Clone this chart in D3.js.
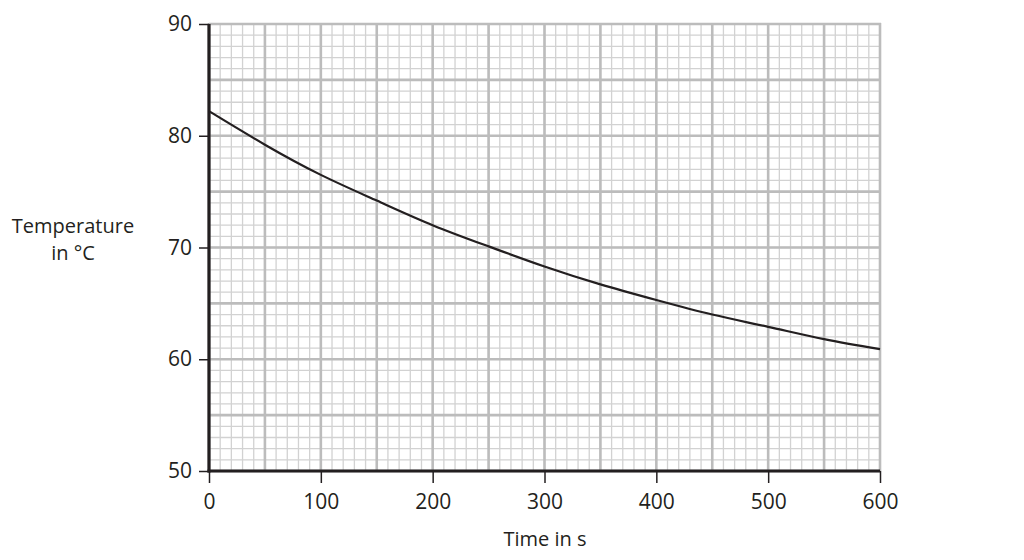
<!DOCTYPE html>
<html>
<head>
<meta charset="utf-8">
<script src="https://cdn.jsdelivr.net/npm/d3@7"></script>
<style>
  html, body { margin: 0; padding: 0; background: #fff; }
  svg { display: block; }
  text { font-family: "Open Sans", "Noto Sans", sans-serif; fill: #231f20; }
</style>
</head>
<body>
<svg id="chart" width="1024" height="560"></svg>
<script>
// ---- data ----
const timeS = [0, 50, 100, 150, 200, 250, 300, 350, 400, 450, 500, 550, 600];
const tempC = [82.2, 79.2, 76.5, 74.2, 72.0, 70.1, 68.3, 66.7, 65.3, 64.0, 62.9, 61.8, 60.9];
const xTickLabels = [0, 100, 200, 300, 400, 500, 600];
const yTickLabels = [50, 60, 70, 80, 90];
const xTitle = "Time in s";
const yTitleLines = ["Temperature", "in \u00B0C"];

// ---- layout ----
const svg = d3.select("#chart");
const x = d3.scaleLinear().domain([0, 600]).range([209, 880]);
const y = d3.scaleLinear().domain([50, 90]).range([471, 24]);

// minor grid
const grid = svg.append("g");
grid.selectAll("line.vmin").data(d3.range(0, 601, 10)).join("line")
  .attr("x1", d => x(d)).attr("x2", d => x(d))
  .attr("y1", y(50)).attr("y2", y(90))
  .attr("stroke", "#d2d2d2").attr("stroke-width", 1.3);
grid.selectAll("line.hmin").data(d3.range(50, 90.1, 1)).join("line")
  .attr("y1", d => y(d)).attr("y2", d => y(d))
  .attr("x1", x(0)).attr("x2", x(600))
  .attr("stroke", "#d2d2d2").attr("stroke-width", 1.3);
// major grid
grid.selectAll("line.vmaj").data(d3.range(0, 601, 50)).join("line")
  .attr("x1", d => x(d)).attr("x2", d => x(d))
  .attr("y1", y(50)).attr("y2", y(90) - 1)
  .attr("stroke", "#bcbcbc").attr("stroke-width", 2.6);
grid.selectAll("line.hmaj").data(d3.range(50, 90.1, 5)).join("line")
  .attr("y1", d => y(d)).attr("y2", d => y(d))
  .attr("x1", x(0)).attr("x2", x(600) + 1)
  .attr("stroke", "#bcbcbc").attr("stroke-width", 2.6);

// axes
const yAxis = d3.axisLeft(y).tickValues(yTickLabels).tickSize(10).tickPadding(7).tickFormat(d3.format("d"));
const gy = svg.append("g").attr("transform", `translate(${x(0)},0)`).call(yAxis);
gy.select(".domain").remove();
gy.selectAll(".tick line").attr("stroke", "#231f20").attr("stroke-width", 1.5);
gy.selectAll(".tick text").attr("font-size", 21).style("font-family", '"Open Sans", sans-serif').attr("fill", "#231f20");

const xAxis = d3.axisBottom(x).tickValues(xTickLabels).tickSize(12).tickPadding(11).tickFormat(d3.format("d"));
const gx = svg.append("g").attr("transform", `translate(0,${y(50)})`).call(xAxis);
gx.select(".domain").remove();
gx.selectAll(".tick line").attr("stroke", "#231f20").attr("stroke-width", 1.5);
gx.selectAll(".tick text").attr("font-size", 21).style("font-family", '"Open Sans", sans-serif').attr("fill", "#231f20");

// axis lines (thick black)
svg.append("line").attr("x1", x(0)).attr("x2", x(0)).attr("y1", y(90)).attr("y2", y(50) + 1.5)
  .attr("stroke", "#231f20").attr("stroke-width", 3.2);
svg.append("line").attr("x1", x(0) - 1.5).attr("x2", x(600)).attr("y1", y(50)).attr("y2", y(50))
  .attr("stroke", "#231f20").attr("stroke-width", 3.2);

// curve
const line = d3.line().x((d, i) => x(timeS[i])).y(d => y(d)).curve(d3.curveNatural);
svg.append("path").datum(tempC).attr("d", line)
  .attr("fill", "none").attr("stroke", "#231f20").attr("stroke-width", 2.2);

// titles
svg.append("text").attr("x", 545).attr("y", 546).attr("text-anchor", "middle")
  .attr("font-size", 20).text(xTitle);
svg.append("g").selectAll("text").data(yTitleLines).join("text")
  .attr("x", 73).attr("y", (d, i) => 233 + i * 27).attr("text-anchor", "middle")
  .attr("font-size", 20).text(d => d);
</script>
</body>
</html>
